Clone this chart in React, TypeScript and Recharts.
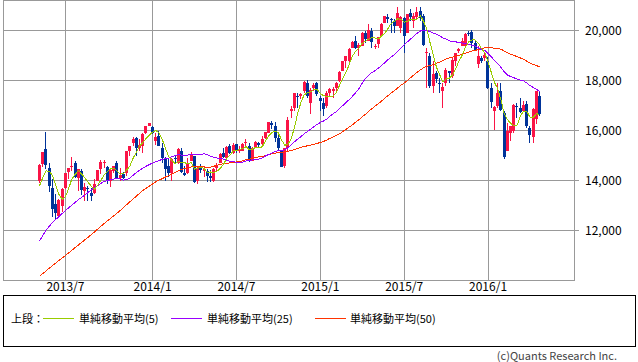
import React from 'react';
import { ComposedChart, Bar, Line, XAxis, YAxis, CartesianGrid, ReferenceArea } from 'recharts';

// Weekly candles, week index 0 = 2013-05-06 ... 155 = 2016-04-25
const X_TICKS = [8, 35, 61, 87, 113, 139];
const X_LABELS = ['2013/7', '2014/1', '2014/7', '2015/1', '2015/7', '2016/1'];
const Y_TICKS = [12000, 14000, 16000, 18000, 20000];
const LEGEND_LABELS = ['単純移動平均(5)', '単純移動平均(25)', '単純移動平均(50)'];

const OPEN = [
  13990, 14650, 15250, 14500, 13700, 13050, 12600, 13000, 13700, 14350,
  14550, 14700, 14100, 14400, 13600, 13700, 13500, 13500, 14000, 14450,
  14700, 14550, 14000, 14400, 14700, 14100, 14250, 14300, 15200, 15500,
  15700, 15300, 15400, 15900, 16200, 16150, 15600, 15800, 15300, 14900,
  14600, 14300, 14900, 14700, 15200, 14300, 14300, 14800, 15000, 14000,
  14500, 14400, 14400, 14200, 14000, 14500, 14700, 15100, 14900, 15400,
  15100, 15450, 15200, 15200, 15500, 15400, 14800, 15350, 15500, 15450,
  15700, 15900, 16300, 16200, 15700, 15200, 14600, 15300, 16800, 16900,
  17400, 17400, 17600, 17900, 17100, 17700, 17900, 17300, 17100, 17000,
  17500, 17600, 17700, 18000, 18400, 18800, 18800, 19300, 19600, 19300,
  19400, 19900, 19600, 20000, 19360, 19450, 19800, 20300, 20550, 20450,
  20400, 20200, 20100, 20500, 19900, 20700, 20400, 20550, 20800, 20600,
  19100, 19000, 17800, 18300, 17900, 17600, 17900, 18400, 18200, 18800,
  19200, 19400, 19400, 19900, 19950, 19500, 18650, 18900, 18900, 18800,
  17700, 16800, 17000, 17600, 16700, 15200, 15900, 16000, 17000, 16900,
  16800, 17050, 16100, 15750, 16450, 17400,
];
const HIGH = [
  14650, 15160, 15942, 14720, 14080, 13480, 13250, 13700, 14320, 14510,
  14953, 14800, 14480, 14470, 13900, 13800, 13700, 14050, 14420, 14820,
  14820, 14600, 14420, 14600, 14800, 14500, 14350, 15200, 15400, 15730,
  15750, 15650, 15900, 16200, 16320, 16170, 15900, 16000, 15500, 14950,
  14900, 14900, 15000, 15300, 15300, 14600, 14900, 15160, 15000, 14550,
  14650, 14550, 14450, 14440, 14500, 14700, 15100, 15300, 15400, 15450,
  15500, 15450, 15400, 15500, 15650, 15500, 15350, 15600, 15550, 15800,
  15950, 16350, 16400, 16350, 15900, 15200, 15300, 16530, 17000, 17500,
  17500, 17500, 18000, 18030, 17700, 17900, 17950, 17400, 17300, 17600,
  17700, 17750, 17950, 18400, 18800, 19000, 19300, 19600, 19800, 19500,
  19950, 20000, 20250, 20100, 19470, 19750, 20300, 20600, 20650, 20500,
  20450, 20952, 20600, 20550, 20650, 20850, 20700, 20950, 20950, 20650,
  19300, 19100, 18800, 18400, 18100, 17900, 18500, 18400, 18900, 19100,
  19300, 19700, 19900, 20000, 20012, 19600, 19400, 19000, 19100, 18950,
  17900, 17000, 17900, 17900, 16800, 16300, 16200, 17050, 17100, 17300,
  17200, 17200, 16200, 16900, 17600, 17600,
];
const LOW = [
  13900, 14550, 14480, 13555, 12548, 12415, 12550, 12750, 13650, 14050,
  14400, 14100, 13600, 13440, 13180, 13190, 13190, 13450, 14000, 14250,
  14500, 13850, 13750, 14300, 14050, 14000, 14050, 14200, 15000, 15400,
  15000, 15200, 15100, 15850, 16180, 15850, 15420, 15380, 14690, 13995,
  14150, 14000, 14700, 14650, 14300, 14200, 14250, 14800, 13890, 13880,
  14300, 14150, 13960, 13960, 13960, 14400, 14700, 14900, 14850, 15050,
  15050, 15100, 15100, 15200, 15400, 14750, 14800, 15300, 15300, 15400,
  15650, 15900, 16050, 15550, 15200, 14530, 14500, 15200, 16500, 16800,
  16900, 17250, 17500, 17300, 16670, 17600, 17400, 16800, 16600, 16900,
  17350, 17300, 17600, 17950, 18400, 18500, 18700, 19300, 19250, 19000,
  19400, 19500, 19600, 19300, 19260, 19300, 19800, 20300, 20300, 19900,
  19900, 20200, 19900, 19115, 19900, 20400, 20100, 20450, 20400, 19400,
  17714, 17700, 17500, 17900, 17500, 16901, 17800, 17900, 18100, 18600,
  19100, 19400, 19400, 19800, 19300, 19200, 18500, 18700, 18800, 17650,
  16900, 16017, 16900, 16800, 14865, 15200, 15600, 15900, 16500, 16700,
  16750, 16100, 15500, 15500, 16270, 16600,
];
const CLOSE = [
  14607, 15138, 14612, 13775, 12877, 12687, 13231, 13677, 14310, 14506,
  14589, 14130, 14467, 13615, 13753, 13660, 13389, 13861, 14405, 14742,
  14760, 14024, 14405, 14562, 14088, 14202, 14086, 15166, 15382, 15662,
  15300, 15404, 15870, 16178, 16291, 15912, 15734, 15391, 14915, 14462,
  14313, 14866, 14841, 15275, 14327, 14224, 14696, 15063, 13960, 14516,
  14430, 14458, 14199, 14097, 14462, 14632, 15077, 14933, 15349, 15095,
  15437, 15164, 15215, 15457, 15523, 14778, 15318, 15539, 15425, 15668,
  15948, 16321, 16229, 15708, 15300, 14532, 15291, 16414, 16880, 17491,
  17358, 17460, 17921, 17371, 17621, 17818, 17451, 17198, 16864, 17512,
  17674, 17648, 17913, 18332, 18797, 18971, 19254, 19560, 19286, 19435,
  19908, 19653, 20020, 19531, 19380, 19733, 20264, 20563, 20460, 20407,
  20174, 20706, 20539, 19780, 20650, 20545, 20585, 20724, 20520, 19436,
  19136, 17792, 18264, 18070, 17880, 17725, 18438, 18291, 18825, 19083,
  19265, 19597, 19879, 19883, 19504, 19230, 18986, 18769, 19034, 17698,
  17147, 16959, 17518, 16820, 14953, 15967, 16188, 17015, 16939, 16725,
  17002, 16164, 15821, 16848, 17572, 16666,
];
const MA5 = [
  13797, 14128, 14387, 14365, 14202, 13818, 13436, 13249, 13356, 13682,
  14063, 14242, 14400, 14261, 14111, 13925, 13777, 13656, 13814, 14011,
  14231, 14358, 14467, 14499, 14368, 14256, 14269, 14421, 14585, 14900,
  15119, 15383, 15524, 15683, 15809, 15931, 15997, 15901, 15649, 15283,
  14963, 14789, 14679, 14751, 14724, 14707, 14673, 14717, 14454, 14492,
  14533, 14485, 14313, 14340, 14329, 14370, 14493, 14640, 14891, 15017,
  15178, 15196, 15252, 15274, 15359, 15227, 15258, 15323, 15317, 15346,
  15580, 15780, 15918, 15975, 15901, 15618, 15412, 15449, 15683, 16122,
  16687, 17121, 17422, 17520, 17546, 17638, 17636, 17492, 17390, 17369,
  17340, 17379, 17522, 17816, 18073, 18332, 18653, 18983, 19174, 19301,
  19489, 19568, 19660, 19709, 19698, 19663, 19786, 19894, 20080, 20285,
  20374, 20462, 20457, 20321, 20370, 20444, 20420, 20457, 20605, 20362,
  20080, 19522, 19030, 18540, 18228, 17946, 18075, 18081, 18232, 18472,
  18780, 19012, 19330, 19541, 19626, 19619, 19496, 19274, 19105, 18743,
  18327, 17921, 17671, 17228, 16679, 16443, 16289, 16189, 16212, 16567,
  16774, 16769, 16530, 16512, 16681, 16614,
];
const MA25 = [
  11590, null, 12020, null, 12320, null, 12560, null, 12800, null,
  13020, null, 13230, null, 13420, null, 13620, null, 13800, null,
  13967, 13988, 14032, 14059, 14075, 14059, 14017, 14039, 14103, 14214,
  14319, 14406, 14494, 14568, 14640, 14693, 14757, 14794, 14846, 14874,
  14900, 14959, 14998, 15033, 15017, 14995, 15022, 15048, 15024, 15041,
  15051, 15065, 15027, 14975, 14927, 14901, 14888, 14850, 14817, 14769,
  14750, 14727, 14720, 14742, 14784, 14803, 14821, 14849, 14855, 14909,
  14978, 15043, 15089, 15159, 15190, 15195, 15228, 15316, 15428, 15549,
  15658, 15753, 15873, 15954, 16055, 16150, 16241, 16321, 16377, 16457,
  16572, 16666, 16761, 16877, 17002, 17123, 17240, 17374, 17517, 17682,
  17897, 18072, 18216, 18322, 18397, 18492, 18605, 18710, 18834, 18945,
  19040, 19170, 19303, 19420, 19546, 19660, 19778, 19890, 19978, 20003,
  20010, 19951, 19900, 19851, 19789, 19701, 19653, 19584, 19555, 19544,
  19525, 19498, 19471, 19448, 19412, 19374, 19305, 19234, 19204, 19086,
  18950, 18805, 18677, 18529, 18350, 18223, 18159, 18109, 18064, 18018,
  17989, 17898, 17799, 17720, 17659, 17555,
];
const MA50 = [
  10170, null, null, null, 10600, null, null, null, 11000, null,
  null, null, 11420, null, null, null, 11830, null, null, null,
  12280, null, null, null, 12690, null, null, null, 13150, null,
  null, null, 13600, null, null, null, 13950, null, null, null,
  14200, null, null, null, 14450, 14481, 14505, 14540, 14542, 14558,
  14555, 14541, 14533, 14539, 14571, 14610, 14647, 14672, 14693, 14705,
  14722, 14742, 14757, 14794, 14829, 14852, 14890, 14924, 14944, 14963,
  14987, 15033, 15069, 15092, 15116, 15123, 15147, 15172, 15202, 15238,
  15280, 15321, 15362, 15386, 15412, 15450, 15484, 15521, 15560, 15621,
  15688, 15744, 15805, 15866, 15956, 16051, 16142, 16232, 16338, 16436,
  16546, 16650, 16766, 16875, 16973, 17075, 17179, 17292, 17394, 17500,
  17595, 17706, 17812, 17899, 18002, 18116, 18222, 18326, 18428, 18503,
  18567, 18596, 18637, 18684, 18736, 18799, 18863, 18900, 18939, 18971,
  19009, 19052, 19091, 19141, 19179, 19207, 19238, 19269, 19312, 19316,
  19305, 19292, 19284, 19254, 19177, 19117, 19055, 19005, 18958, 18904,
  18845, 18776, 18692, 18638, 18602, 18540,
];

const UP = '#fa1446';
const DOWN = '#003399';
const C5 = '#99cc00';
const C25 = '#9900ff';
const C50 = '#ff3300';
const GRID = '#999999';
const FONT = "'Noto Sans CJK JP', 'Noto Sans', sans-serif";

const data = CLOSE.map((c, i) => ({
  i,
  o: OPEN[i],
  h: HIGH[i],
  l: LOW[i],
  c,
  range: [LOW[i], HIGH[i]],
  ma5: MA5[i],
  ma25: MA25[i],
  ma50: MA50[i],
}));

const Candle = (props: any) => {
  const { x, y, width, height, payload } = props;
  if (!payload || x == null || y == null) return null;
  const { o, h, l, c } = payload;
  const ratio = h > l ? height / (h - l) : 0;
  const color = c >= o ? UP : DOWN;
  const cx = Math.floor(x + width / 2);
  const top = y + (h - Math.max(o, c)) * ratio;
  const bot = y + (h - Math.min(o, c)) * ratio;
  return (
    <g shapeRendering="crispEdges">
      <rect x={cx} y={y} width={1} height={Math.max(1, height)} fill={color} />
      <rect x={cx - 1} y={top} width={3} height={Math.max(1, bot - top)} fill={color} />
    </g>
  );
};

const txt: React.CSSProperties = {
  position: 'absolute',
  fontFamily: FONT,
  fontSize: 11,
  lineHeight: '16px',
  color: '#000',
  whiteSpace: 'nowrap',
};

const legendLine = (left: number, width: number, color: string): React.CSSProperties => ({
  position: 'absolute',
  left,
  top: 318,
  width,
  height: 1,
  background: color,
});

export default function App() {
  return (
    <div style={{ position: 'relative', width: 638, height: 362, background: '#fff', overflow: 'hidden' }}>
      <style>{`body{margin:0;} .recharts-surface path, .recharts-surface line { shape-rendering: crispEdges; }`}</style>
      <ComposedChart
        width={638}
        height={362}
        data={data}
        margin={{ top: 0.5, right: 0, bottom: 61.5, left: 3.5 }}
      >
        <CartesianGrid stroke={GRID} strokeWidth={1} />
        <XAxis
          type="number"
          dataKey="i"
          domain={[-11.2, 165.8]}
          allowDataOverflow
          ticks={X_TICKS}
          tickFormatter={(v: number) => X_LABELS[X_TICKS.indexOf(v)] ?? ''}
          tickLine={false}
          axisLine={false}
          tickSize={0}
          tickMargin={2}
          height={20}
          tick={{ fontSize: 12, fill: '#000', fontFamily: FONT }}
        />
        <YAxis
          orientation="right"
          type="number"
          domain={[10000, 21200]}
          allowDataOverflow
          ticks={Y_TICKS}
          tickFormatter={(v: number) => v.toLocaleString('en-US')}
          axisLine={false}
          tickLine={{ stroke: GRID }}
          tickSize={4}
          tickMargin={6.5}
          width={63.5}
          tick={{ fontSize: 12, fill: '#000', fontFamily: FONT }}
        />
        <ReferenceArea
          x1={-11.2}
          x2={165.8}
          y1={10000}
          y2={21200}
          fill="none"
          fillOpacity={0}
          stroke={GRID}
          strokeOpacity={1}
          ifOverflow="visible"
        />
        <Bar dataKey="range" barSize={3} shape={Candle} isAnimationActive={false} />
        <Line dataKey="ma50" stroke={C50} strokeWidth={1} dot={false} connectNulls isAnimationActive={false} />
        <Line dataKey="ma25" stroke={C25} strokeWidth={1} dot={false} connectNulls isAnimationActive={false} />
        <Line dataKey="ma5" stroke={C5} strokeWidth={1} dot={false} connectNulls isAnimationActive={false} />
      </ComposedChart>

      <div
        style={{
          position: 'absolute',
          left: 3,
          top: 295,
          width: 633,
          height: 52,
          boxSizing: 'border-box',
          border: '1px solid #000',
        }}
      />
      <span style={{ ...txt, left: 11, top: 310 }}>上段：</span>
      <div style={legendLine(43, 31, C5)} />
      <span style={{ ...txt, left: 79, top: 310 }}>{LEGEND_LABELS[0]}</span>
      <div style={legendLine(171, 31, C25)} />
      <span style={{ ...txt, left: 207, top: 310 }}>{LEGEND_LABELS[1]}</span>
      <div style={legendLine(315, 31, C50)} />
      <span style={{ ...txt, left: 350, top: 310 }}>{LEGEND_LABELS[2]}</span>
      <span style={{ ...txt, right: 21, top: 349, lineHeight: '12px', color: '#444', fontSize: 11 }}>(c)Quants Research Inc.</span>
    </div>
  );
}
